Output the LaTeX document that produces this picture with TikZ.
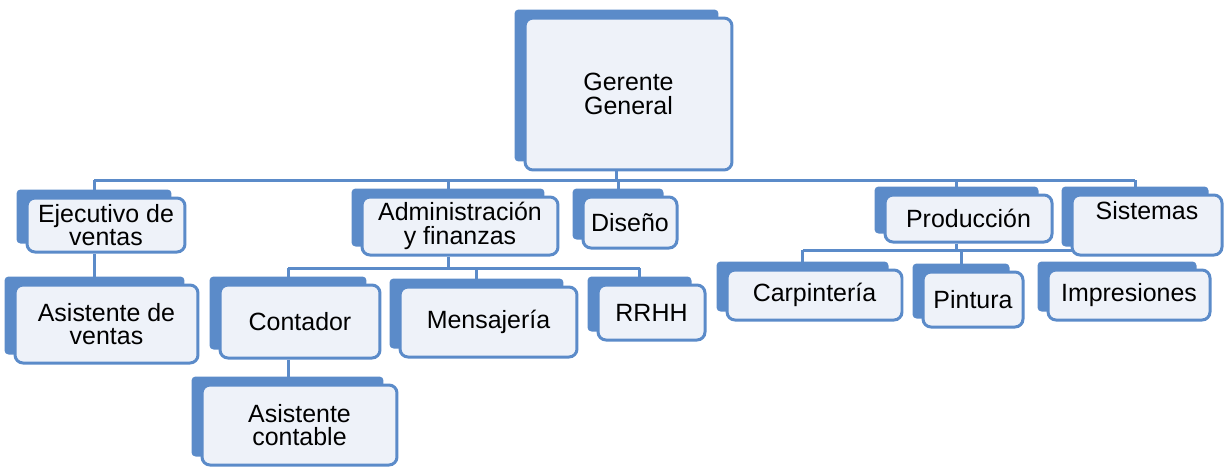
\documentclass[tikz,border=0pt]{standalone}
\usepackage{fontspec}
\setmainfont{Liberation Sans}
\usetikzlibrary{backgrounds}

\definecolor{orgblue}{HTML}{5B8BC9}
\definecolor{orgfill}{HTML}{EEF2F9}

\tikzset{
  orgbox/.style={draw=orgblue, line width=0.06cm, fill=orgfill, rounded corners=0.16cm,
    align=center, inner sep=2pt, font=\fontsize{14.2}{13.5}\selectfont},
  backbox/.style={fill=orgblue, rounded corners=0.08cm},
  conn/.style={draw=orgblue, line width=0.06cm}
}

\begin{document}
\begin{tikzpicture}[x=0.02cm, y=-0.02cm] % one unit = one pixel of the reference

    \useasboundingbox (0,0) rectangle (1229,468);

    % --- Bus levels ---
    \coordinate (busA) at (0,180);
    \coordinate (busB) at (0,268);
    \coordinate (busC) at (0,250);

    % --- Boxes ---
    \node[orgbox, minimum width=4.14cm, minimum height=3.04cm] (gg) at (628.5,94) {Gerente\\General};

    \node[orgbox, minimum width=3.16cm, minimum height=1.08cm] (ejec) at (106,225) {Ejecutivo de\\ventas};
    \node[orgbox, minimum width=3.66cm, minimum height=1.56cm] (asv) at (106.5,324) {Asistente de\\ventas};

    \node[orgbox, minimum width=3.92cm, minimum height=1.16cm] (adm) at (460,226) {Administración\\y finanzas};
    \node[orgbox, minimum width=1.88cm, minimum height=1.02cm] (dis) at (630,222.5) {Diseño};

    \node[orgbox, minimum width=3.2cm, minimum height=1.46cm] (cont) at (300,321.5) {Contador};
    \node[orgbox, minimum width=3.9cm, minimum height=1.6cm] (asc) at (299.5,425) {Asistente\\contable};
    \node[orgbox, minimum width=3.54cm, minimum height=1.4cm] (men) at (488.5,322) {Mensajería};
    \node[orgbox, minimum width=2.14cm, minimum height=1.1cm] (rrhh) at (651.5,312.5) {RRHH};

    \node[orgbox, minimum width=3.34cm, minimum height=0.94cm] (prod) at (968.5,218.5) {Producción};
    \node[orgbox, minimum width=3.0cm, minimum height=1.2cm, text depth=0.6cm] (sis) at (1147,225) {Sistemas};

    \node[orgbox, minimum width=3.5cm, minimum height=1.0cm] (carp) at (814.5,295) {Carpintería};
    \node[orgbox, minimum width=2.0cm, minimum height=1.1cm] (pint) at (973,299.5) {Pintura};
    \node[orgbox, minimum width=3.24cm, minimum height=1.0cm] (imp) at (1129,295) {Impresiones};

    \begin{scope}[on background layer]
        % drop points sit under the centre of the back plates
        \foreach \n in {gg,ejec,asv,adm,dis,cont,asc,men,rrhh,prod,sis,carp,pint,imp}{
            \coordinate (\n-t) at ([xshift=-0.24cm]\n.north);
            \coordinate (\n-b) at ([xshift=-0.24cm]\n.south);
        }

        % --- Connectors ---
        \draw[conn] (gg-b) -- (gg-b |- busA);
        \draw[conn] (ejec-t |- busA) -- (sis-t |- busA);
        \foreach \n in {ejec,adm,dis,prod,sis}
            \draw[conn] (\n-t) -- (\n-t |- busA);

        \draw[conn] (ejec-b) -- (ejec-b |- asv-t);

        \draw[conn] (adm-b) -- (adm-b |- busB);
        \draw[conn] (cont-t |- busB) -- (rrhh-t |- busB);
        \foreach \n in {cont,men,rrhh}
            \draw[conn] (\n-t) -- (\n-t |- busB);
        \draw[conn] (cont-b) -- (cont-b |- asc-t);

        % the Producción bus runs on under Sistemas towards Impresiones
        \draw[conn] (prod-b) -- (prod-b |- busC);
        \draw[conn] (carp-t |- busC) -- (imp-t |- busC);
        \foreach \n in {carp,pint}
            \draw[conn] (\n-t) -- (\n-t |- busC);

        % --- Back plates ---
        \foreach \n in {gg,ejec,asv,adm,dis,cont,asc,men,rrhh,prod,sis,carp,pint,imp}
            \fill[backbox] ([xshift=-0.18cm,yshift=0.14cm]\n.north west) rectangle ([xshift=-0.3cm,yshift=0.2cm]\n.south east);
    \end{scope}

\end{tikzpicture}
\end{document}
